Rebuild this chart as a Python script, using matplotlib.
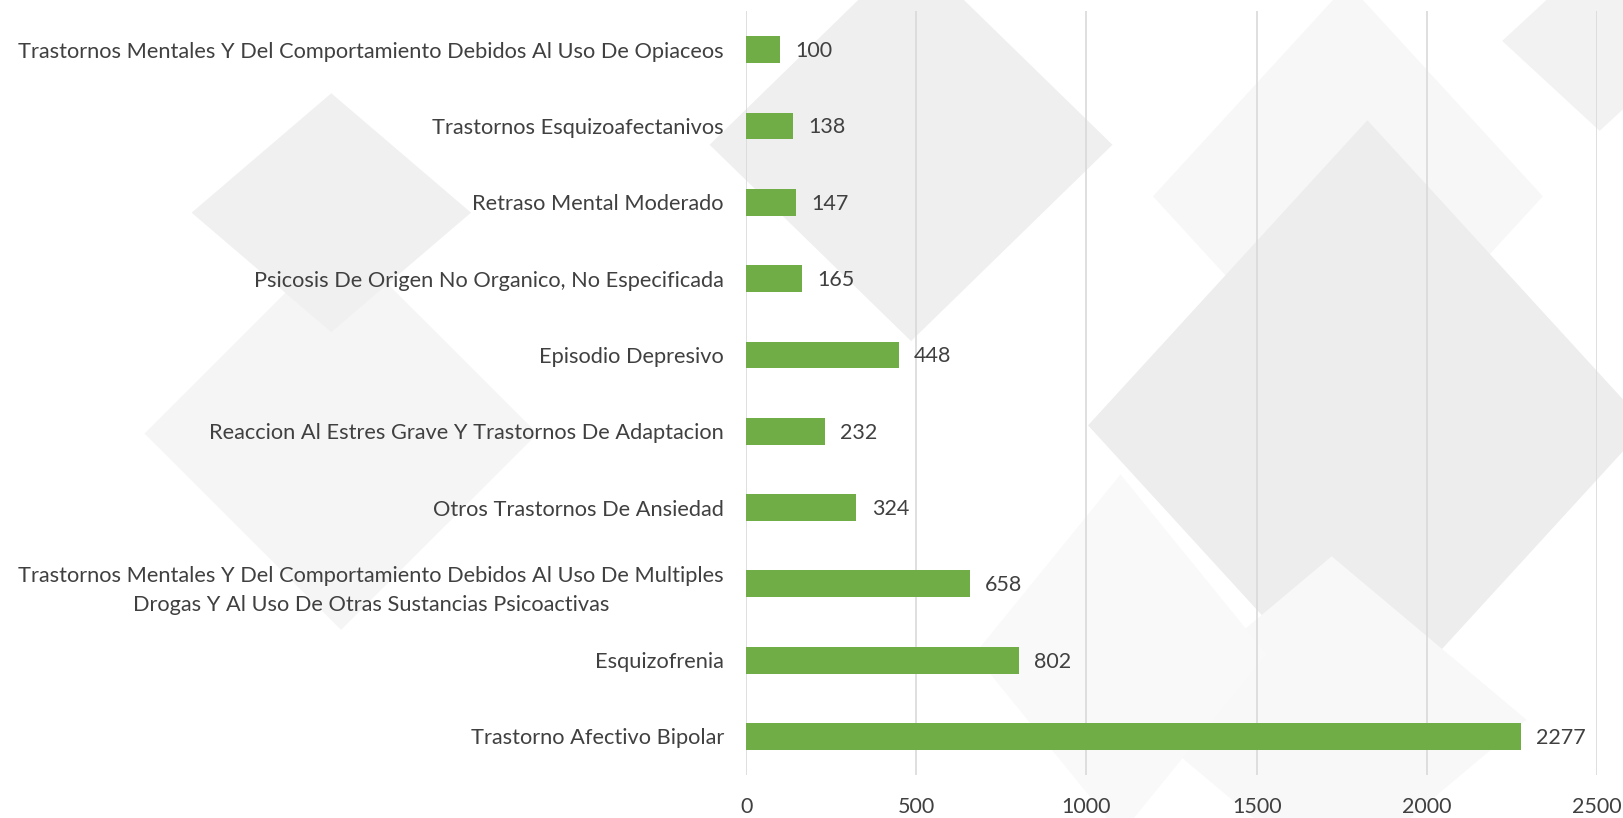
import matplotlib.pyplot as plt
from matplotlib.patches import Polygon

plt.rcParams['font.family'] = ['Lato', 'DejaVu Sans']

# Datos (de arriba hacia abajo)
categorias = [
    'Trastornos Mentales Y Del Comportamiento Debidos Al Uso De Opiaceos',
    'Trastornos Esquizoafectanivos',
    'Retraso Mental Moderado',
    'Psicosis De Origen No Organico, No Especificada',
    'Episodio Depresivo',
    'Reaccion Al Estres Grave Y Trastornos De Adaptacion',
    'Otros Trastornos De Ansiedad',
    'Trastornos Mentales Y Del Comportamiento Debidos Al Uso De Multiples\nDrogas Y Al Uso De Otras Sustancias Psicoactivas',
    'Esquizofrenia',
    'Trastorno Afectivo Bipolar',
]
valores = [100, 138, 147, 165, 448, 232, 324, 658, 802, 2277]
ticks_x = [0, 500, 1000, 1500, 2000, 2500]

verde = '#70AD47'
texto = '#404040'

fig = plt.figure(figsize=(16.24, 8.18), dpi=100)

# Fondo decorativo: rombos grises muy claros
rombos = [
    ((0.21, 0.53), 0.121, 0.24, '#F5F5F5'),
    ((0.204, 0.26), 0.086, 0.146, '#F0F0F0'),
    ((0.561, 0.177), 0.124, 0.24, '#EFEFEF'),
    ((0.83, 0.24), 0.12, 0.26, '#F7F7F7'),
    ((0.842, 0.52), 0.172, 0.373, '#EDEDED'),
    ((0.985, 0.05), 0.06, 0.11, '#F2F2F2'),
    ((0.82, 0.88), 0.12, 0.2, '#F8F8F8'),
    ((0.69, 0.80), 0.09, 0.22, '#F9F9F9'),
]
for (cx, cy), w, h, c in rombos:
    fig.patches.append(Polygon(
        [(cx - w, 1 - cy), (cx, 1 - cy + h), (cx + w, 1 - cy), (cx, 1 - cy - h)],
        closed=True, transform=fig.transFigure, facecolor=c, edgecolor='none',
        zorder=-1))

ax = fig.add_axes([0.4594, 0.053, 0.5240, 0.933])
ax.set_zorder(2)
ax.patch.set_alpha(0)

y = list(range(len(categorias)))
bars = ax.barh(y, valores, height=0.35, color=verde, zorder=3)

for b, v in zip(bars, valores):
    ax.annotate(str(v), (b.get_width(), b.get_y() + b.get_height() / 2),
                xytext=(11, -1), textcoords='offset points',
                ha='left', va='center', fontsize=15.5, color=texto)

ax.set_ylim(len(categorias) - 0.5, -0.5)
ax.set_xlim(0, 2500)
ax.set_xticks(ticks_x)
ax.set_yticks(y)
ax.set_yticklabels(categorias, fontsize=15.7, color=texto)
for lbl in ax.get_yticklabels():
    lbl.set_multialignment('center')
    lbl.set_linespacing(1.55)
ax.tick_params(axis='y', length=0, pad=16)
ax.tick_params(axis='x', length=0, pad=16, labelsize=15.5, labelcolor=texto)

ax.grid(axis='x', color='#D9D9D9', linewidth=1.2, zorder=0)
for s in ax.spines.values():
    s.set_visible(False)

fig.savefig('out.png', dpi=100)
